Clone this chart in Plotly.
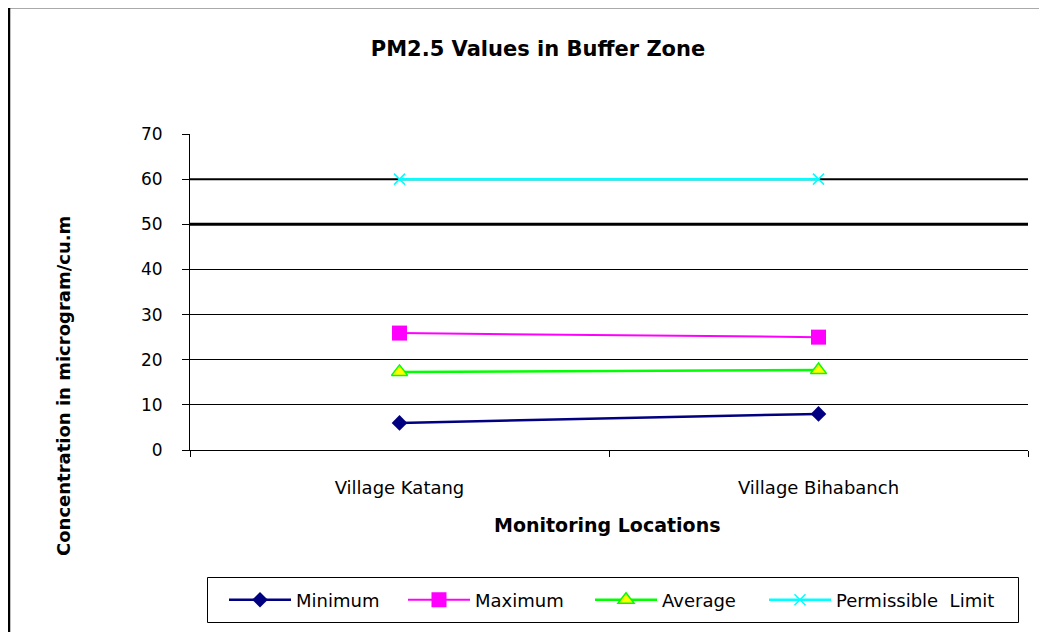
import plotly.graph_objects as go

categories = ["Village Katang", "Village Bihabanch"]
minimum = [6.0, 8.0]
maximum = [25.9, 25.0]
average = [17.3, 17.7]
permissible = [60, 60]
y_ticks = [0, 10, 20, 30, 40, 50, 60, 70]

FONT = "DejaVu Sans, Verdana, sans-serif"

# page-pixel helpers (page offset 8px by body margin)
PL, PR, PT, PB = 190, 1028, 134, 450
def px(x):
    return (x - PL) / (PR - PL)
def py(y):
    return (PB - y) / (PB - PT)

fig = go.Figure()
fig.add_trace(go.Scatter(x=categories, y=minimum, name="Minimum", mode="lines+markers",
                         line=dict(color="#000080", width=2.5), legend="legend",
                         marker=dict(symbol="diamond", size=12, color="#000080")))
fig.add_trace(go.Scatter(x=categories, y=maximum, name="Maximum", mode="lines+markers",
                         line=dict(color="#FF00FF", width=2), legend="legend2",
                         marker=dict(symbol="square", size=15, color="#FF00FF")))
fig.add_trace(go.Scatter(x=categories, y=average, name="Average", mode="lines+markers",
                         line=dict(color="#00FF00", width=2.5), legend="legend3",
                         marker=dict(symbol="triangle-up", size=14, color="#FFFF00",
                                     line=dict(color="#00FF00", width=1.5))))
fig.add_trace(go.Scatter(x=categories, y=permissible, name="Permissible  Limit", mode="lines+markers",
                         line=dict(color="#00FFFF", width=2.5), legend="legend4",
                         marker=dict(symbol="x-thin", size=11, color="#00FFFF",
                                     line=dict(color="#00FFFF", width=1.5))))

# thicker gridlines at 50 and 60
for yv, w in [(50, 3), (60, 2)]:
    fig.add_shape(type="line", xref="paper", yref="y", x0=0, x1=1, y0=yv, y1=yv,
                  line=dict(color="black", width=w), layer="below")

# outer frame lines
fig.add_shape(type="line", xref="paper", yref="paper", x0=px(9), x1=px(1060),
              y0=py(8.5), y1=py(8.5), line=dict(color="#AAAAAA", width=1))
fig.add_shape(type="line", xref="paper", yref="paper", x0=px(9), x1=px(9),
              y0=py(8), y1=py(660), line=dict(color="black", width=2.5))
# legend box
fig.add_shape(type="rect", xref="paper", yref="paper", x0=px(207.5), x1=px(1018.5),
              y0=py(577.5), y1=py(622.5), line=dict(color="black", width=1), fillcolor="white")

# axis titles as annotations
fig.add_annotation(text="<b>Concentration in microgram/cu.m</b>", xref="paper", yref="paper",
                   x=px(63), y=py(386), textangle=-90, showarrow=False,
                   font=dict(size=18, family=FONT, color="black"), xanchor="center", yanchor="middle")
fig.add_annotation(text="<b>Monitoring Locations</b>", xref="paper", yref="paper",
                   x=px(607), y=py(525), showarrow=False,
                   font=dict(size=19, family=FONT, color="black"), xanchor="center", yanchor="middle")

def leg(xpage):
    return dict(orientation="h", x=px(xpage), xanchor="left", y=py(600), yanchor="middle",
                borderwidth=0, bgcolor="rgba(0,0,0,0)", font=dict(size=18), itemwidth=62)

W, H = 1039, 624
fig.update_layout(
    width=W, height=H,
    margin=dict(l=PL - 8, r=W - (PR - 8), t=PT - 8, b=H - (PB - 8)),
    paper_bgcolor="white", plot_bgcolor="white",
    font=dict(family=FONT, color="black", size=16),
    title=dict(text="<b>PM2.5 Values in Buffer Zone</b>", x=(538 - 8) / W, xanchor="center",
               y=1 - (49 - 8) / H, yanchor="middle", font=dict(size=21, family=FONT)),
    xaxis=dict(type="category", range=[-0.5, 1.5], showgrid=False, showline=True,
               linecolor="black", linewidth=1, ticks="outside", tickson="boundaries",
               ticklen=6, tickcolor="black", tickfont=dict(size=18), ticklabelstandoff=21),
    yaxis=dict(range=[0, 70], tickvals=y_ticks, showgrid=True, gridcolor="black", gridwidth=1,
               showline=True, linecolor="black", linewidth=1, ticks="outside", ticklen=7,
               tickcolor="black", tickfont=dict(size=17), zeroline=False, ticklabelstandoff=16),
    legend=leg(224), legend2=leg(403), legend3=leg(590), legend4=leg(764),
    showlegend=True,
)

fig.write_html("out.html")
